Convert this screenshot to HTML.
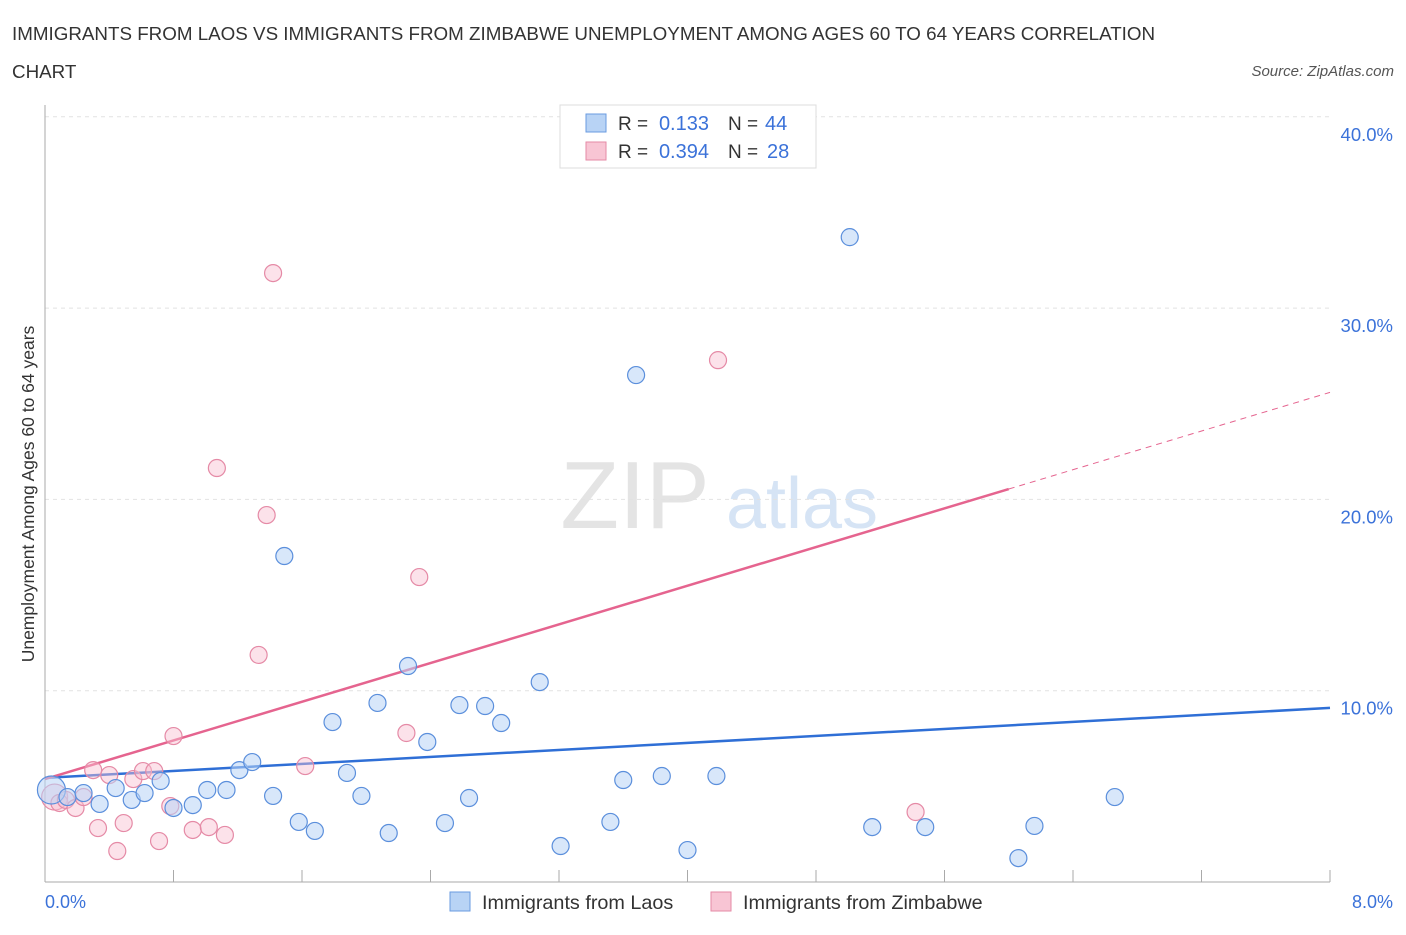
<!DOCTYPE html>
<html><head><meta charset="utf-8"><style>
body{margin:0;background:#fff;font-family:"Liberation Sans",sans-serif}
svg text{font-family:"Liberation Sans",sans-serif}
</style></head><body>
<svg id="c" width="1406" height="930">
<text x="12" y="40" font-size="18.8" fill="#333">IMMIGRANTS FROM LAOS VS IMMIGRANTS FROM ZIMBABWE UNEMPLOYMENT AMONG AGES 60 TO 64 YEARS CORRELATION</text>
<text x="12" y="78" font-size="18.8" fill="#333">CHART</text>
<text x="1394" y="76" font-size="15" fill="#555" font-style="italic" text-anchor="end">Source: ZipAtlas.com</text>
<text x="635" y="528" font-size="96" fill="#e4e4e4" text-anchor="middle" font-family="Liberation Serif">ZIP</text>
<text x="802" y="528" font-size="72" fill="#d6e4f5" text-anchor="middle">atlas</text>
<g id="grid"></g><g id="axes"></g><g id="lines"></g><g id="pts"></g>
<text x="34" y="494" font-size="17.5" fill="#333" text-anchor="middle" transform="rotate(-90 34 494)">Unemployment Among Ages 60 to 64 years</text>
<text x="45" y="908" font-size="18" fill="#3b72d9">0.0%</text>
<text x="1393" y="908" font-size="18" fill="#3b72d9" text-anchor="end">8.0%</text>
<g>
<rect x="560" y="105" width="256" height="63" fill="#fff" stroke="#ddd"/>
<rect x="586" y="114" width="20" height="18" fill="#b8d3f5" stroke="#6a9be0"/>
<rect x="586" y="142" width="20" height="18" fill="#f8c5d4" stroke="#e58aa6"/>
<text x="618" y="130" font-size="19" fill="#333">R =</text>
<text x="709" y="130" font-size="20" fill="#3b72d9" text-anchor="end">0.133</text>
<text x="728" y="130" font-size="19" fill="#333">N =</text>
<text x="765" y="130" font-size="20" fill="#3b72d9">44</text>
<text x="618" y="158" font-size="19" fill="#333">R =</text>
<text x="709" y="158" font-size="20" fill="#3b72d9" text-anchor="end">0.394</text>
<text x="728" y="158" font-size="19" fill="#333">N =</text>
<text x="767" y="158" font-size="20" fill="#3b72d9">28</text>
</g>
<g>
<rect x="450" y="892" width="20" height="19" fill="#b8d3f5" stroke="#6a9be0"/>
<text x="482" y="909" font-size="19.8" fill="#333">Immigrants from Laos</text>
<rect x="711" y="892" width="20" height="19" fill="#f8c5d4" stroke="#e58aa6"/>
<text x="743" y="909" font-size="19.8" fill="#333">Immigrants from Zimbabwe</text>
</g>
</svg>
<script>
const yTicks=[10,20,30,40];
const laosX=[0.04,0.14,0.24,0.34,0.44,0.54,0.62,0.72,0.80,0.92,1.01,1.13,1.21,1.29,1.42,1.49,1.58,1.68,1.79,1.88,1.97,2.07,2.14,2.26,2.49,2.58,2.64,2.74,2.84,3.08,3.21,3.52,3.60,3.68,3.84,4.00,4.18,5.01,5.15,5.48,6.06,6.16,6.66,2.38];
const laosY=[4.81,4.44,4.65,4.08,4.91,4.29,4.65,5.28,3.87,4.02,4.81,4.81,5.85,6.27,4.50,17.04,3.14,2.67,8.36,5.70,4.50,9.36,2.56,11.29,3.08,9.25,4.39,9.20,8.31,10.45,1.88,3.14,5.33,26.50,5.54,1.67,5.54,33.71,2.87,2.87,1.25,2.93,4.44,7.32];
const zimX=[0.06,0.09,0.13,0.19,0.24,0.30,0.33,0.40,0.45,0.49,0.55,0.61,0.68,0.71,0.78,0.80,0.92,1.02,1.07,1.12,1.33,1.38,1.42,1.62,2.25,2.33,4.19,5.42];
const zimY=[4.44,4.13,4.29,3.87,4.44,5.85,2.82,5.59,1.62,3.08,5.38,5.80,5.80,2.14,3.97,7.63,2.72,2.87,21.64,2.46,11.87,19.18,31.83,6.06,7.79,15.94,27.28,3.66];
const laosTrend=[5.44,9.10];
const zimTrend=[5.38,2.527];
const X=v=>45+v/8*1285, Y=v=>882-v*19.13;
const NS="http://www.w3.org/2000/svg";
function mk(p,t,a){const e=document.createElementNS(NS,t);for(const k in a)e.setAttribute(k,a[k]);document.getElementById(p).appendChild(e);return e;}
yTicks.forEach(t=>{
 const l=mk('grid','line',{x1:45,x2:1330,y1:Y(t),y2:Y(t),stroke:'#e2e2e2','stroke-dasharray':'4,4'});
 
 
 const tx=mk('grid','text',{x:1393,y:Y(t)+24,'font-size':18.5,fill:'#3b72d9','text-anchor':'end'});tx.textContent=t.toFixed(1)+'%';
 
 
});
const ax=mk('axes','line',{x1:45,x2:45,y1:105,y2:882,stroke:'#aaa'});


const bx=mk('axes','line',{x1:45,x2:1330,y1:882,y2:882,stroke:'#aaa'});


for(let i=1;i<=10;i++){const t=mk('axes','line',{x1:X(i*0.8),x2:X(i*0.8),y1:870,y2:882,stroke:'#aaa'});
 
 }
function dot(x,y,r,f,s,n){const c=mk('pts','circle',{cx:X(x),cy:Y(y),r:r,fill:f,stroke:s,'stroke-width':1.2});
 
 }
zimX.forEach((x,i)=>dot(x,zimY[i],i==0?13:8.5,'rgba(248,190,208,0.45)','#e58aa6','zimbabwe-point'));
laosX.forEach((x,i)=>dot(x,laosY[i],i==0?14:8.5,'rgba(184,211,245,0.55)','#5b8fdc','laos-point'));
const bl=mk('lines','line',{x1:X(0),y1:Y(laosTrend[0]),x2:X(8),y2:Y(laosTrend[1]),stroke:'#2f6fd6','stroke-width':2.5});


const pl=mk('lines','line',{x1:X(0),y1:Y(zimTrend[0]),x2:X(6),y2:Y(zimTrend[0]+6*zimTrend[1]),stroke:'#e5648f','stroke-width':2.5});


const pd=mk('lines','line',{x1:X(6),y1:Y(zimTrend[0]+6*zimTrend[1]),x2:X(8),y2:Y(zimTrend[0]+8*zimTrend[1]),stroke:'#e5648f','stroke-width':1,'stroke-dasharray':'6,5'});


</script>
</body></html>
